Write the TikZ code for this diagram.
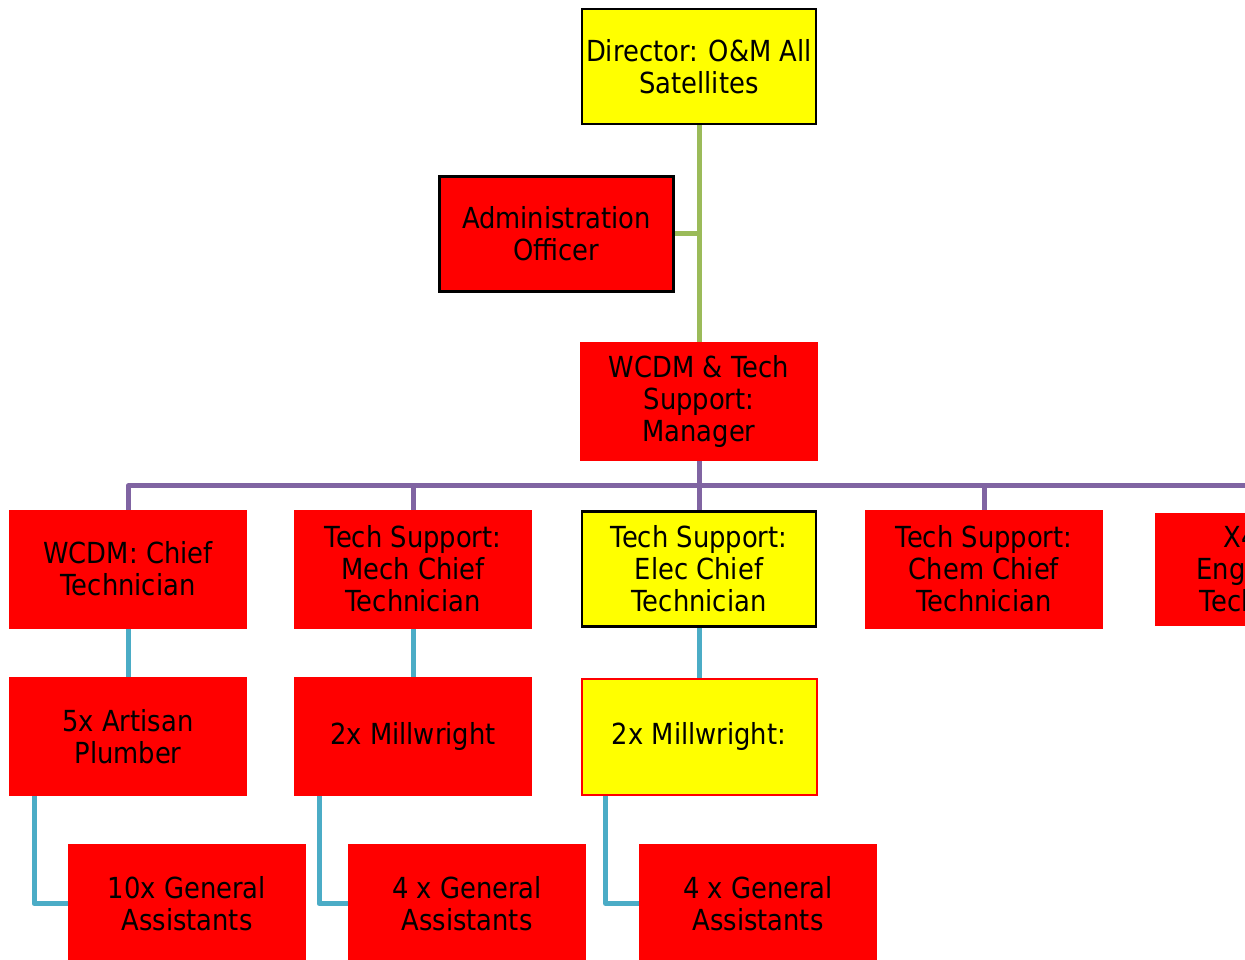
\documentclass[tikz,border=0pt]{standalone}
\usepackage{fontspec}
\setmainfont{DejaVu Sans}[FakeStretch=0.89]
\usetikzlibrary{backgrounds}
\definecolor{boxred}{HTML}{FF0000}
\definecolor{boxyellow}{HTML}{FFFF00}
\definecolor{linkgreen}{HTML}{9BBB59}
\definecolor{linkpurple}{HTML}{8064A2}
\definecolor{linkcyan}{HTML}{4BACC6}
\tikzset{
  orgbox/.style={rectangle, minimum width=237pt, minimum height=118pt,
    inner sep=0pt, align=center, text=black,
    font=\fontsize{29}{32}\selectfont},
  redbox/.style={orgbox, fill=boxred, draw=boxred, line width=0.8pt},
  outlined/.style={orgbox, draw=black, line width=2.5pt, minimum width=234pt, minimum height=115pt},
  link/.style={line width=5pt, line join=round},
}
\begin{document}
\begin{tikzpicture}[x=1pt, y=-1pt]
\useasboundingbox (0,0) rectangle (1245,960);
\clip (0,0) rectangle (1245,960);

% top of the chart
\node[outlined, fill=boxyellow] (dir) at (699,66.5) {Director: O\&M All\\Satellites};
\node[outlined, fill=boxred] (admin) at (556.5,234) {Administration\\Officer};
\node[redbox] (mgr) at (699,401.5) {WCDM \& Tech\\Support:\\Manager};

% chief technicians
\node[redbox] (c1) at (128,569) {WCDM: Chief\\Technician};
\node[redbox] (c2) at (413,569) {Tech Support:\\Mech Chief\\Technician};
\node[outlined, fill=boxyellow] (c3) at (699,569) {Tech Support:\\Elec Chief\\Technician};
\node[redbox] (c4) at (984,569) {Tech Support:\\Chem Chief\\Technician};
\node[redbox, minimum height=112pt] (c5) at (1274,569) {X4 Shift\\Engineering\\Technicians};

% trades
\node[redbox] (d1) at (128,736.5) {5x Artisan\\Plumber};
\node[redbox] (d2) at (413,736.5) {2x Millwright};
\node[orgbox, fill=boxyellow, draw=boxred, line width=2pt, minimum width=235pt, minimum height=116pt] (d3) at (699,736.5) {2x Millwright:};

% assistants
\node[redbox] (e1) at (187,903.5) {10x General\\Assistants};
\node[redbox] (e2) at (467,903.5) {4 x General\\Assistants};
\node[redbox] (e3) at (758,903.5) {4 x General\\Assistants};

\begin{scope}[on background layer]
  % director branch
  \draw[link, linkgreen] (dir.south) -- (mgr.north);
  \draw[link, linkgreen] (admin.east) -- (admin.east -| dir.south);
  % manager bus
  \foreach \c in {c1,c2,c3,c4,c5}
    \draw[link, linkpurple] (mgr.south) -- ++(0,25) -| (\c.north);
  % chief to trade
  \draw[link, linkcyan] (c1.south) -- (d1.north);
  \draw[link, linkcyan] (c2.south) -- (d2.north);
  \draw[link, linkcyan] (c3.south) -- (d3.north);
  % trade to assistants
  \draw[link, linkcyan] ([xshift=25pt]d1.south west) |- (e1.west);
  \draw[link, linkcyan] ([xshift=25pt]d2.south west) |- (e2.west);
  \draw[link, linkcyan] ([xshift=25pt]d3.south west) |- (e3.west);
\end{scope}
\end{tikzpicture}
\end{document}
